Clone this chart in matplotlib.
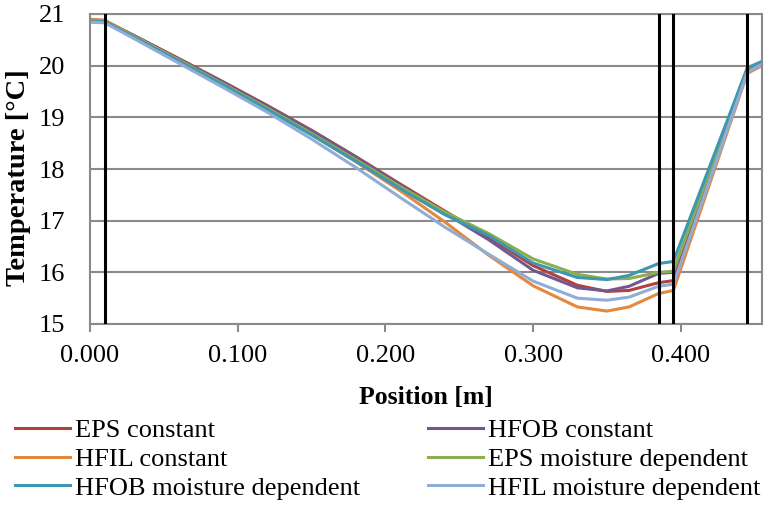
import matplotlib
matplotlib.use("Agg")
import matplotlib.pyplot as plt

plt.rcParams['font.family'] = ['Liberation Serif', 'DejaVu Serif']

# position along the wall [m]
position = [0.0, 0.010, 0.03, 0.06, 0.09, 0.12, 0.15, 0.18, 0.21, 0.24, 0.27,
            0.30, 0.33, 0.35, 0.365, 0.385, 0.395, 0.445, 0.455]

eps_const = [20.89, 20.87, 20.58, 20.14, 19.69, 19.23, 18.75, 18.24, 17.71, 17.19, 16.68,
             16.13, 15.75, 15.63, 15.65, 15.80, 15.84, 19.88, 20.02]
hfob_const = [20.88, 20.87, 20.58, 20.13, 19.68, 19.22, 18.74, 18.23, 17.69, 17.15, 16.63,
              16.04, 15.70, 15.64, 15.73, 15.98, 16.00, 19.88, 20.02]
hfil_const = [20.90, 20.88, 20.57, 20.11, 19.64, 19.17, 18.67, 18.14, 17.58, 16.98, 16.33,
              15.74, 15.33, 15.25, 15.33, 15.59, 15.65, 19.85, 20.00]
eps_moist = [20.88, 20.86, 20.56, 20.11, 19.65, 19.18, 18.69, 18.18, 17.66, 17.17, 16.75,
             16.26, 15.96, 15.87, 15.88, 16.00, 16.02, 19.96, 20.08]
hfob_moist = [20.86, 20.85, 20.55, 20.09, 19.63, 19.15, 18.66, 18.15, 17.62, 17.12, 16.71,
              16.18, 15.90, 15.86, 15.94, 16.17, 16.21, 19.95, 20.08]
hfil_moist = [20.84, 20.83, 20.52, 20.05, 19.58, 19.10, 18.58, 18.03, 17.45, 16.88, 16.35,
              15.83, 15.50, 15.46, 15.52, 15.73, 15.77, 19.87, 20.03]

# layer boundaries
boundaries = [0.010, 0.385, 0.395, 0.445]

series = [
    ("EPS constant", eps_const, "#B0413E"),
    ("HFOB constant", hfob_const, "#71598F"),
    ("HFIL constant", hfil_const, "#E3883C"),
    ("EPS moisture dependent", eps_moist, "#8BAE4E"),
    ("HFOB moisture dependent", hfob_moist, "#3D97B0"),
    ("HFIL moisture dependent", hfil_moist, "#8FADD6"),
]

fig = plt.figure(figsize=(7.67, 5.05), dpi=100)
ax = fig.add_axes([90/767, 1 - 324/505, 672/767, 310/505])

lines = {}
for name, vals, col in series:
    lines[name] = ax.plot(position, vals, color=col, lw=2.2, label=name)[0]

for b in boundaries:
    ax.axvline(b, color='black', lw=2.2, zorder=5)

ax.set_xlim(0, 0.455)
ax.set_ylim(15, 21)
ax.set_xticks([0, 0.1, 0.2, 0.3, 0.4])
ax.set_xticklabels(["0.000", "0.100", "0.200", "0.300", "0.400"])
ax.set_yticks(range(15, 22))
ax.grid(axis='y', color='#8a8a8a', lw=1.5)
ax.set_axisbelow(True)
for s in ax.spines.values():
    s.set_color('#8a8a8a')
    s.set_linewidth(1.5)
ax.tick_params(axis='x', direction='out', length=6, width=1.5, color='#8a8a8a',
               labelsize=19, pad=9)
ax.tick_params(axis='y', length=0, labelsize=19, pad=18)
ax.set_xlabel("Position [m]", fontsize=18.5, fontweight='bold', labelpad=14)
ax.set_ylabel("Temperature [°C]", fontsize=20.5, fontweight='bold')
ax.yaxis.set_label_coords(-0.088, 0.471)

order = ["EPS constant", "HFIL constant", "HFOB moisture dependent",
         "HFOB constant", "EPS moisture dependent", "HFIL moisture dependent"]
fig.legend([lines[n] for n in order], order, ncol=2, loc='upper left',
           bbox_to_anchor=(0.006, 0.192), frameon=False, fontsize=19,
           handlelength=2.08, handletextpad=0.19, columnspacing=2.58,
           labelspacing=0.2, borderaxespad=0)

fig.savefig("out.png", dpi=100)
